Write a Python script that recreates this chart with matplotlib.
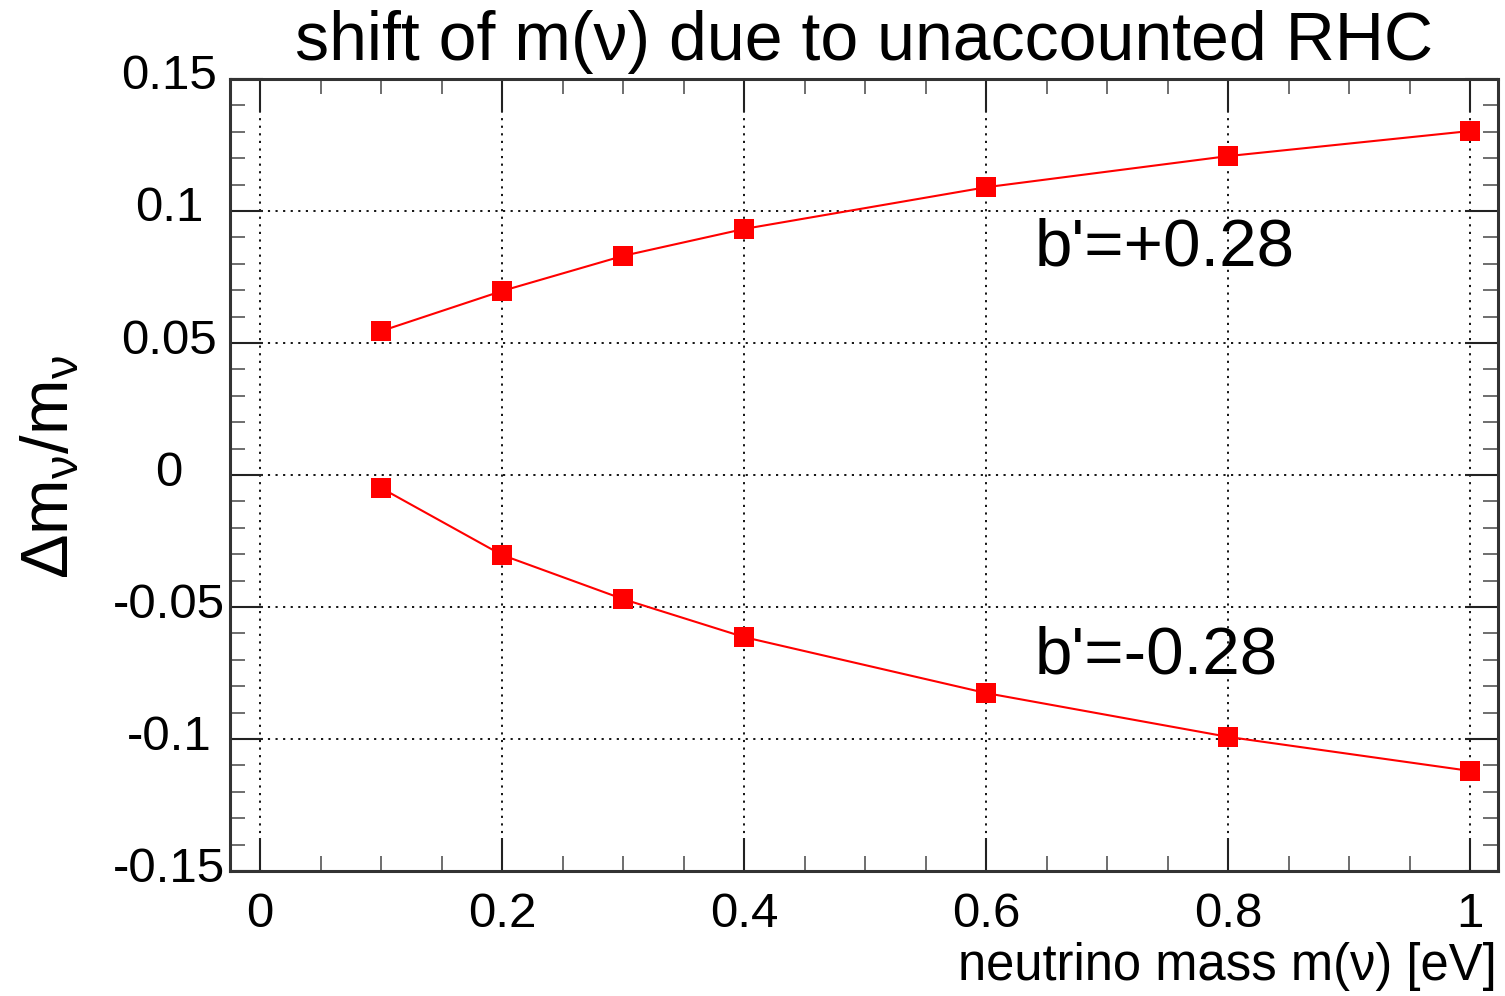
import matplotlib
matplotlib.use("Agg")
import matplotlib.pyplot as plt
from matplotlib.ticker import MultipleLocator, FixedLocator
from matplotlib.transforms import ScaledTranslation

plt.rcParams['font.family'] = ['Liberation Sans', 'DejaVu Sans']
plt.rcParams['mathtext.fontset'] = 'custom'
plt.rcParams['mathtext.rm'] = 'Liberation Sans'
plt.rcParams['mathtext.it'] = 'Liberation Sans'
plt.rcParams['mathtext.bf'] = 'Liberation Sans:bold'

# data
mass = [0.1, 0.2, 0.3, 0.4, 0.6, 0.8, 1.0]
shift_pos = [0.0545, 0.0697, 0.0830, 0.0932, 0.1090, 0.1208, 0.1303]
shift_neg = [-0.0049, -0.0303, -0.0470, -0.0614, -0.0826, -0.0992, -0.1121]
label_pos = "b'=+0.28"
label_neg = "b'=-0.28"
x_ticks = [0, 0.2, 0.4, 0.6, 0.8, 1.0]
x_ticklabels = ["0", "0.2", "0.4", "0.6", "0.8", "1"]
y_ticks = [-0.15, -0.1, -0.05, 0, 0.05, 0.1, 0.15]
y_ticklabels = ["-0.15", "-0.1", "-0.05", "0", "0.05", "0.1", "0.15"]
title = "shift of m(\u03bd) due to unaccounted RHC"
xlabel = "neutrino mass m(\u03bd) [eV]"
ylabel = r"$\mathrm{\Delta m_{\nu}/m_{\nu}}$"

W, H = 1505, 996
fig = plt.figure(figsize=(W / 100, H / 100), dpi=100)
ax = fig.add_axes([230 / W, 1 - 871 / H, (1498 - 230) / W, (871 - 79) / H])

ax.plot(mass, shift_pos, color='#ff0000', lw=1.5, marker='s', ms=14,
        markeredgewidth=0, zorder=3)
ax.plot(mass, shift_neg, color='#ff0000', lw=1.5, marker='s', ms=14,
        markeredgewidth=0, zorder=3)

ax.set_xlim(-0.0248, 1.023)
ax.set_ylim(-0.15, 0.15)

ax.xaxis.set_major_locator(FixedLocator(x_ticks))
ax.set_xticklabels(x_ticklabels)
ax.yaxis.set_major_locator(FixedLocator(y_ticks))
ax.set_yticklabels(y_ticklabels)
ax.xaxis.set_minor_locator(MultipleLocator(0.05))
ax.yaxis.set_minor_locator(MultipleLocator(0.01))

ax.tick_params(which='both', direction='in', top=True, right=True,
               color='#222222')
ax.tick_params(which='major', length=24, width=1.5, labelsize=35.5)
ax.tick_params(which='minor', length=11, width=1.2, color='#555555')
ax.tick_params(axis='x', which='major', pad=15)
ax.tick_params(axis='y', which='major', pad=44)

shift_up = ScaledTranslation(0, 7 / 100, fig.dpi_scale_trans)
for lab in ax.get_yticklabels():
    lab.set_horizontalalignment('center')
    lab.set_transform(lab.get_transform() + shift_up)

ax.grid(True, which='major', color='black', linestyle=(0, (1.2, 3)), lw=1.3)

for s in ax.spines.values():
    s.set_linewidth(2.2)
    s.set_color('#333333')

ax.text(0.640, 0.0795, label_pos, fontsize=48.5, ha='left', va='baseline')
ax.text(0.640, -0.0750, label_neg, fontsize=48.5, ha='left', va='baseline')

fig.text(864 / W, 1 - 60 / H, title, fontsize=49, ha='center', va='baseline')
fig.text(1497 / W, 1 - 980 / H, xlabel, fontsize=36.5, ha='right', va='baseline')
fig.text(51 / W, 1 - 467 / H, ylabel, fontsize=48, rotation=90,
         ha='center', va='center')

fig.savefig("out.png", dpi=100)
